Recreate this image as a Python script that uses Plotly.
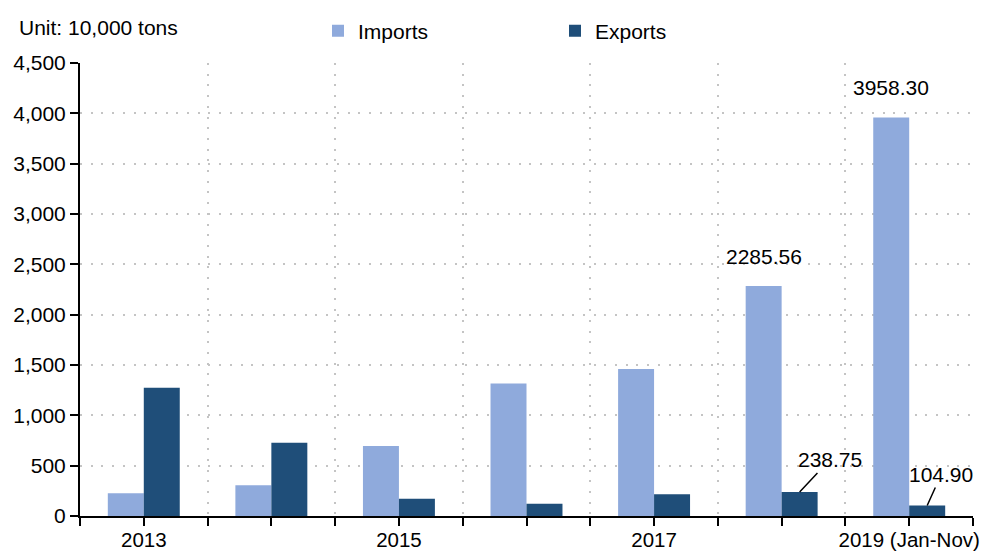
import plotly.graph_objects as go

categories = ["2013", "2014", "2015", "2016", "2017", "2018", "2019 (Jan-Nov)"]
tick_labels = ["2013", "", "2015", "", "2017", "", "2019 (Jan-Nov)"]
imports = [225, 305, 695, 1315, 1460, 2285.56, 3958.30]
exports = [1275, 728, 172, 122, 215, 238.75, 104.90]
y_ticks = [0, 500, 1000, 1500, 2000, 2500, 3000, 3500, 4000, 4500]

IMP_COLOR = "#8FAADC"
EXP_COLOR = "#1F4E79"
GRID = "#c4c4c4"
FONT = "Liberation Sans, Arial, sans-serif"
FS = 21
BARGAP = 0.436

xs = list(range(len(categories)))

fig = go.Figure()
fig.add_trace(go.Bar(x=xs, y=imports, name="Imports", marker=dict(color=IMP_COLOR, line=dict(width=0)),
                     hovertext=categories))
fig.add_trace(go.Bar(x=xs, y=exports, name="Exports", marker=dict(color=EXP_COLOR, line=dict(width=0)),
                     hovertext=categories))

w = (1 - BARGAP) / 2
annotations = [
    dict(x=5 - w / 2, y=imports[5], text=f"{imports[5]:.2f}", showarrow=False,
         yanchor="bottom", yshift=16),
    dict(x=6 - w / 2, y=imports[6], text=f"{imports[6]:.2f}", showarrow=False,
         yanchor="bottom", yshift=17),
    dict(x=5 + w / 2, y=exports[5], text=f"{exports[5]:.2f}", showarrow=True,
         arrowhead=0, arrowwidth=1.5, arrowcolor="black", ax=30, ay=-32, standoff=0),
    dict(x=6 + w / 2, y=exports[6], text=f"{exports[6]:.2f}", showarrow=True,
         arrowhead=0, arrowwidth=1.5, arrowcolor="black", ax=14, ay=-31, standoff=0),
    dict(x=(17 - 80) / 893, y=1 + (63 - 27) / 453, xref="paper", yref="paper",
         text="Unit: 10,000 tons", showarrow=False, xanchor="left", yanchor="middle"),
]

fig.update_layout(
    width=984, height=553,
    margin=dict(l=80, r=11, t=63, b=37, autoexpand=False),
    paper_bgcolor="white", plot_bgcolor="white",
    font=dict(family=FONT, size=FS, color="black"),
    barmode="group", bargap=BARGAP, bargroupgap=0,
    showlegend=True,
    legend=dict(orientation="h", x=(318 - 80) / 893, y=1 + (63 - 31) / 453, xanchor="left",
                yanchor="middle", entrywidth=192, font=dict(size=FS), bgcolor="rgba(0,0,0,0)"),
    annotations=annotations,
    xaxis=dict(
        range=[-0.5, 6.5], tickmode="array", tickvals=xs, ticktext=tick_labels,
        ticks="outside", ticklen=8, tickwidth=2, tickcolor="black",
        ticklabelstandoff=-4, tickfont=dict(size=20.5),
        showline=True, linecolor="black", linewidth=2, showgrid=False, zeroline=False,
        automargin=False,
        minor=dict(tickmode="array", tickvals=[i - 0.5 for i in range(len(categories) + 1)],
                   ticks="outside", ticklen=8, tickwidth=2, tickcolor="black",
                   showgrid=True, gridcolor=GRID, gridwidth=2, griddash="2px,8.7px"),
        fixedrange=True,
    ),
    yaxis=dict(
        range=[0, 4500], tickmode="array", tickvals=y_ticks, tickformat=",",
        ticks="outside", ticklen=8, tickwidth=2, tickcolor="black",
        showline=True, linecolor="black", linewidth=2, zeroline=False,
        showgrid=True, gridcolor=GRID, gridwidth=2, griddash="2px,8.7px",
        automargin=False, fixedrange=True,
    ),
)

fig.write_html("out.html")
